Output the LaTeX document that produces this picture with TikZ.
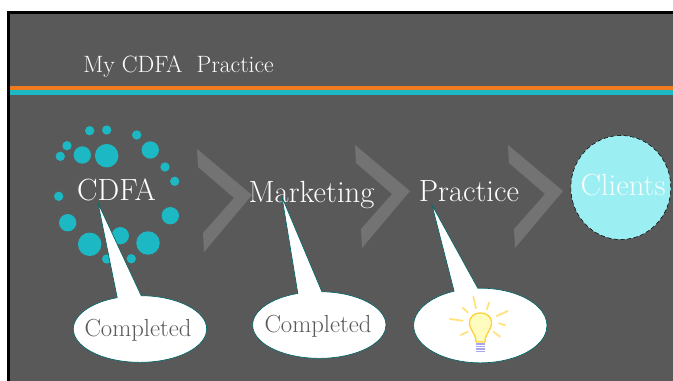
\documentclass[tikz,border=0pt]{standalone}
\usetikzlibrary{shapes.callouts,shapes.geometric}
\definecolor{slate}{HTML}{595959}
\definecolor{tealdot}{HTML}{1CB8C4}
\definecolor{barorange}{HTML}{F07A1E}
\definecolor{clientblue}{HTML}{9BEEF2}
\definecolor{chevgray}{HTML}{737373}
\definecolor{bulbray}{HTML}{FFE27A}
\definecolor{bulbedge}{HTML}{FFD23C}
\definecolor{bulbbase}{HTML}{A9A6F0}
\tikzset{
  stage/.style={text=white,font=\fontsize{23}{26}\selectfont,inner sep=0pt},
  bubble/.style={ellipse callout,draw=teal!80!black,line width=.5pt,fill=white,
    inner sep=0pt,minimum width=100pt,callout pointer arc=21},
  bubbletext/.style={text=slate,inner sep=0pt,font=\fontsize{18.5}{22}\selectfont},
  ray/.style={draw=bulbray,line width=1.3pt,line cap=round},
}
\newcommand{\dotat}[3]{\fill[tealdot] (#1,#2) circle (#3);}
\newcommand{\chevron}[2]{\fill[chevgray,shift={(#1,#2)}] (0,0)--(1,18)--(37,49)--(6,84)--(7,103)--(55,46)--cycle;}
\begin{document}
\begin{tikzpicture}[x=0.75pt,y=-0.75pt]
  \useasboundingbox (0,0) rectangle (673,381);
  \fill[white] (0,0) rectangle (673,381);
  \fill[black] (7,11) rectangle (673,381);
  \fill[slate] (10,14) rectangle (673,381);
  \fill[barorange] (10,86) rectangle (673,90);
  \fill[tealdot] (10,90) rectangle (673,95);
  \node[text=white,anchor=base west,inner sep=0pt,font=\fontsize{17.7}{20}\selectfont] (title) at (83,73) {My CDFA\ \ Practice};
  % ring of dots
  \foreach \px/\py in {89.7/130.7,106.7/130,136.7/135,67/145.7,60.3/156.3,165/167,174.7/181.3,58.7/196.3,131.3/258.7,106.7/259}
    {\dotat{\px}{\py}{3.5pt}}
  \foreach \px/\py in {82.3/155,150.3/150,170.3/215.7,67.7/222.7,120.3/235.7}
    {\dotat{\px}{\py}{6.5pt}}
  \foreach \px/\py in {106.7/155.7,89.7/244.3,148/243}
    {\dotat{\px}{\py}{8.8pt}}
  \chevron{197}{149}
  \chevron{355}{145}
  \chevron{508}{145}
  \node[stage,anchor=base] (cdfa) at (116.5,200) {CDFA};
  \node[stage,anchor=base] (marketing) at (311.5,202) {Marketing};
  \node[stage,anchor=base] (practice) at (469,201) {Practice};
  \node[ellipse,draw=black,densely dashed,line width=.4pt,fill=clientblue,minimum width=75pt,minimum height=78pt,inner sep=0pt] (clients) at (620.8,187.5) {};
  \node[stage,text=white!90!clientblue,anchor=base] (clientstext) at (623,195) {Clients};
  % callouts
  \node[bubble,minimum height=50pt,callout absolute pointer={(98,203)}] (done1) at (140,329) {};
  \node[bubble,minimum height=50pt,callout absolute pointer={(282,197)}] (done2) at (319.3,325) {};
  \node[bubble,minimum height=56pt,callout absolute pointer={(432,205)}] (idea) at (480.3,325.5) {};
  \node[bubbletext,anchor=base] (done1text) at (138,336) {Completed};
  \node[bubbletext,anchor=base] (done2text) at (318,332) {Completed};
  % bulb
  \foreach \ax/\ay/\bx/\by in {473.3/296.7/476/308.3,489.3/302.3/486.7/309.3,462.7/307.7/467.7/312.3,507.7/311/496.7/316,450/319/462.7/320.7,499/323.3/505/325.3,460.7/335/467.7/331.7,493.3/331.7/500/336.7}
    {\draw[ray] (\ax,\ay)--(\bx,\by);}
  \draw[draw=bulbedge,line width=1pt,fill=yellow!25] (476,342) .. controls (476,333) and (469,330) .. (469.5,322) .. controls (470,310) and (491,310) .. (491.5,322) .. controls (492,330) and (485,333) .. (485,342) -- cycle;
  \foreach \py in {344,346.5,349,351.5}
    {\draw[bulbbase,line width=1.1pt] (476,\py)--(485,\py);}
\end{tikzpicture}
\end{document}
